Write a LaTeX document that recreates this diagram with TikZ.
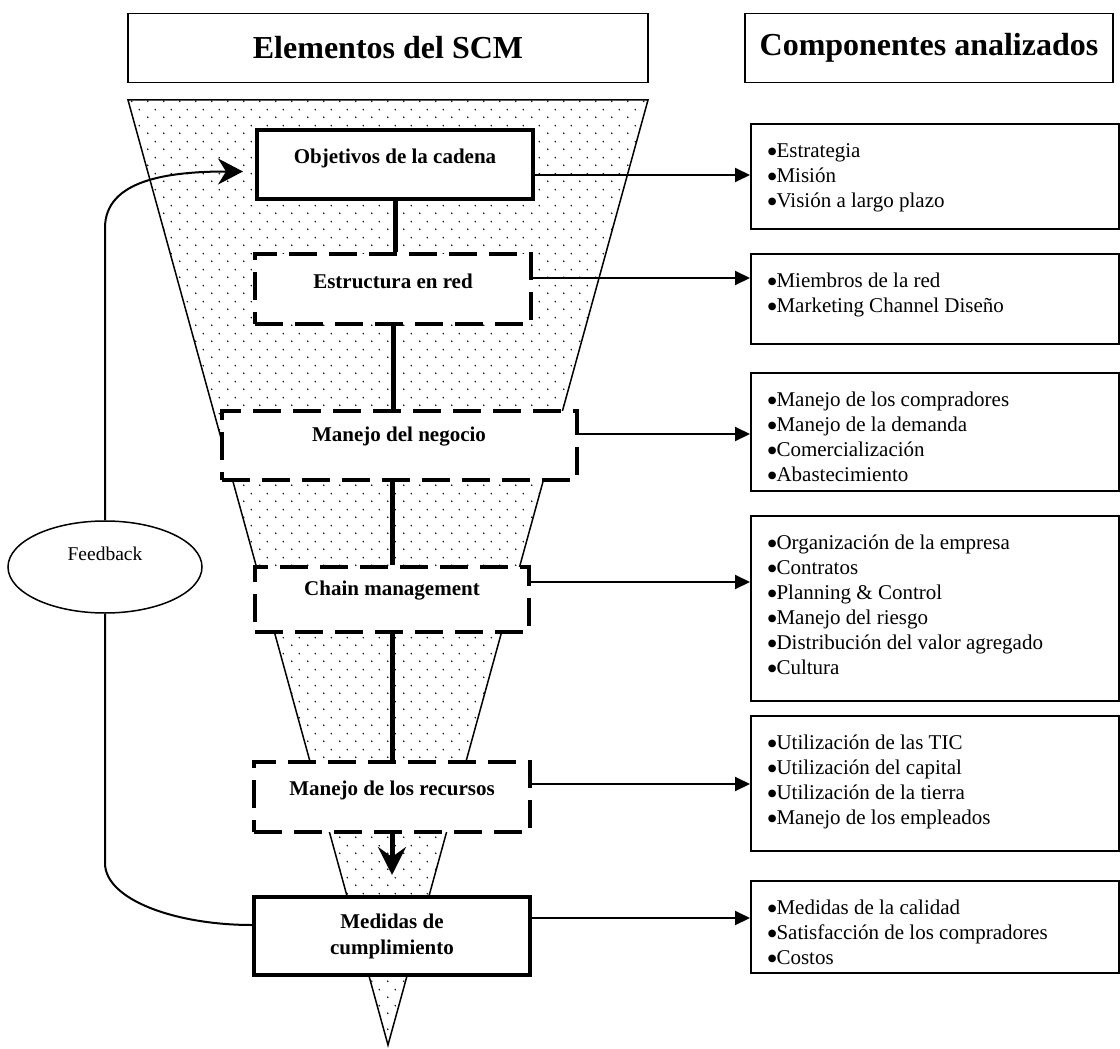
\documentclass[tikz,border=0pt]{standalone}
\usepackage{fontspec}
\setmainfont{Liberation Serif}
\newfontfamily\symfont{DejaVu Sans}
\usetikzlibrary{arrows.meta,patterns.meta,shapes.geometric}

\pgfdeclarepattern{name=funneldots, type=uncolored,
	bottom left={\pgfpoint{0pt}{0pt}}, top right={\pgfpoint{16pt}{16pt}},
	tile size={\pgfpoint{16pt}{16pt}},
	code={\pgfpathcircle{\pgfpoint{4pt}{4pt}}{0.9pt}
		\pgfpathcircle{\pgfpoint{12pt}{12pt}}{0.9pt}\pgfusepath{fill}}}

\newcommand\bul{\strut{\symfont\fontsize{10}{10}\selectfont\raisebox{3pt}{●}}}
\newcommand\itemlist[2]{\parbox[t][#1][t]{334pt}{#2}}

\begin{document}
\begin{tikzpicture}[x=1pt, y=-1pt,
	head/.style={draw, line width=1.6pt, minimum width=#1, minimum height=69pt,
		font=\fontsize{32}{36}\selectfont\bfseries},
	elem/.style={draw, fill=white, line width=4pt, minimum width=#1, inner ysep=0pt,
		anchor=north, font=\fontsize{21}{26}\selectfont\bfseries},
	elem/.default=276pt,
	loose/.style={elem=#1, dash pattern=on 28pt off 12pt},
	loose/.default=276pt,
	listbox/.style={draw, line width=1.6pt, anchor=north west, inner xsep=17pt,
		inner ysep=16pt, font=\fontsize{21}{25}\selectfont},
	bar/.style={line width=5pt},
	toright/.style={line width=2pt, -{Triangle[length=15pt,width=14pt]}},
	feed/.style={line width=2pt}
]
	\useasboundingbox (0,0) rectangle (1120,1049);

	\node[head=520pt] (elemhead) at (388,48) {Elementos del SCM};
	\node[head=368pt] (comphead) at (929,48) {Componentes analizados};

	\draw[line width=1.5pt, pattern=funneldots] (128,100) -- (648,100) -- (388,1045) -- cycle;

	\node[elem, text height=33pt, text depth=36pt] (obj) at (395,128) {Objetivos de la cadena};
	\node[loose, text height=34pt, text depth=36pt] (est) at (393,252) {Estructura en red};
	\node[loose=355pt, text height=30pt, text depth=39pt] (neg) at (399,409) {Manejo del negocio};
	\node[loose=274pt, text height=28pt, text depth=37pt] (chain) at (392,565) {Chain management};
	\node[loose, text height=33pt, text depth=37pt] (rec) at (392,760) {Manejo de los recursos};
	\node[elem, minimum height=78pt, align=center] (med) at (392,895) {Medidas de\\cumplimiento};

	\draw[bar] (obj.south) -- (obj.south |- est.north);
	\draw[bar] (est.south) -- (est.south |- neg.north);
	\draw[bar] (chain.north |- neg.south) -- (chain.north);
	\draw[bar] (chain.south) -- (rec.north);
	\draw[bar, -{Stealth[length=28pt,width=28pt,inset=10pt]}] (rec.south) -- ([yshift=20pt]med.north);

	\node[listbox] (r1) at (750,123) {\itemlist{73pt}{\bul Estrategia\\\bul Misión\\\bul Visión a largo plazo}};
	\node[listbox] (r2) at (750,253) {\itemlist{58pt}{\bul Miembros de la red\\\bul Marketing Channel Diseño}};
	\node[listbox] (r3) at (750,372) {\itemlist{86pt}{\bul Manejo de los compradores\\\bul Manejo de la demanda\\
		\bul Comercialización\\\bul Abastecimiento}};
	\node[listbox] (r4) at (750,515) {\itemlist{153pt}{\bul Organización de la empresa\\\bul Contratos\\
		\bul Planning \& Control\\\bul Manejo del riesgo\\\bul Distribución del valor agregado\\\bul Cultura}};
	\node[listbox] (r5) at (750,715) {\itemlist{103pt}{\bul Utilización de las TIC\\\bul Utilización del capital\\
		\bul Utilización de la tierra\\\bul Manejo de los empleados}};
	\node[listbox] (r6) at (750,880) {\itemlist{60pt}{\bul Medidas de la calidad\\\bul Satisfacción de los compradores\\
		\bul Costos}};

	\foreach \src/\dst/\dy in {obj/r1/47,est/r2/26,neg/r3/25,chain/r4/17,rec/r5/24,med/r6/23}
		\draw[toright] ([yshift=-\dy pt]\src.north east) coordinate (from) -- (from -| \dst.west);

	\node[ellipse, draw, fill=white, line width=1.5pt, minimum width=194pt, minimum height=92pt,
		text height=14pt, text depth=28pt, font=\fontsize{19.5}{22}\selectfont] (fb) at (105,567) {Feedback};
	\draw[feed] ([yshift=-30pt]med.north west) .. controls +(-76,0) and +(0,37) .. (fb.south |- 0,863) -- (fb.south);
	\draw[feed, -{Stealth[length=25pt,width=26pt,inset=8pt]}] (fb.north) -- (fb.north |- 0,228)
		.. controls +(0,-48) and +(-75,0) .. ([xshift=-12pt,yshift=-7pt]obj.west);
\end{tikzpicture}
\end{document}
